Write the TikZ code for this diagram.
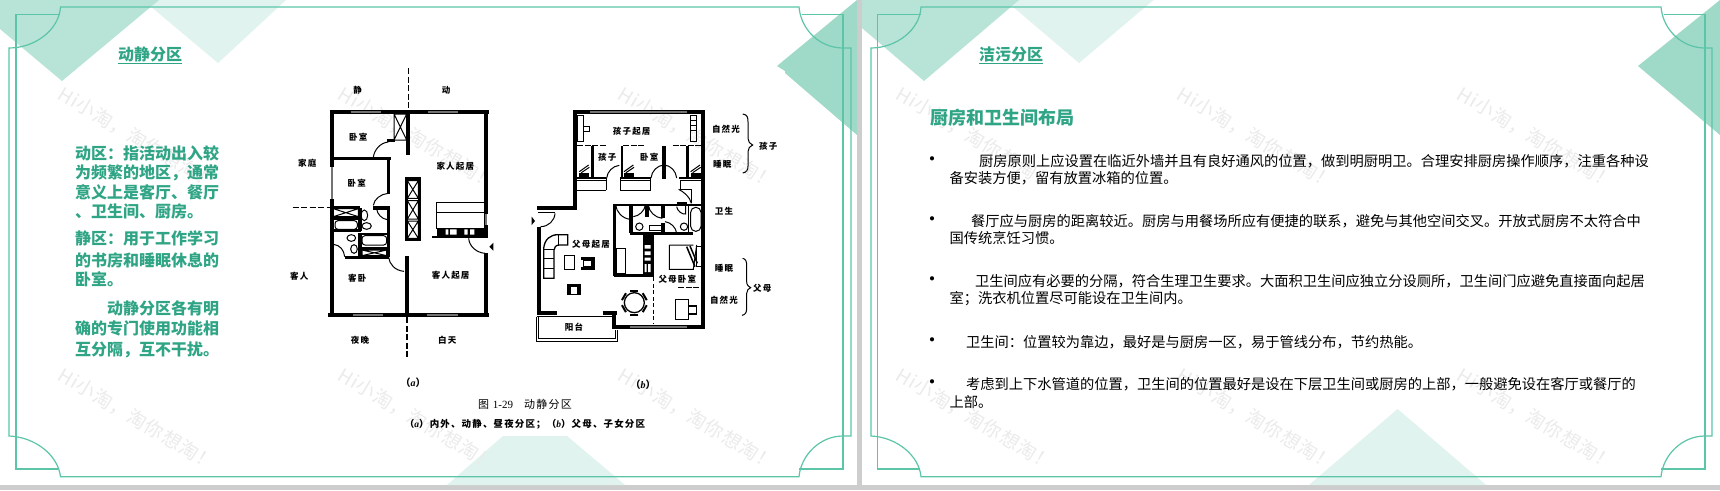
\documentclass[tikz,border=0pt]{standalone}
\usepackage{fontspec}
\setmainfont{Noto Sans CJK SC}
\newfontfamily\scan[LetterSpace=14]{Noto Sans CJK SC}
\newfontfamily\capfont[LetterSpace=12]{Noto Sans CJK SC}
\newfontfamily\wmfont[LetterSpace=5]{Noto Sans CJK SC}
\newfontfamily\latinit{Liberation Serif}
\definecolor{gframe}{HTML}{5CC5A8}
\definecolor{gtext}{HTML}{2FA586}
\definecolor{tridark}{HTML}{9FD9C8}
\definecolor{trimid}{HTML}{B8E3D7}
\definecolor{trilight}{HTML}{E0F3EE}
\definecolor{wmark}{HTML}{EBEBEB}
\definecolor{panelgap}{HTML}{CDCDCD}
\newcommand{\crossbox}[4]{\draw[mid] (#1,#2) rectangle (#3,#4) (#1,#2)--(#3,#4) (#1,#4)--(#3,#2);}
\tikzset{
  frameline/.style={draw=gframe,line width=1.2pt},
  mark wm/.style={text=wmark,font=\fontsize{19}{19}\selectfont\wmfont,inner sep=0pt,anchor=west,rotate=-31},
  gline/.style={text=gtext,font=\fontsize{16}{16}\selectfont\bfseries,inner sep=0pt,anchor=west},
  gtitle/.style={text=gtext,font=\fontsize{16}{16}\selectfont\bfseries,inner sep=0pt},
  body/.style={text=black,font=\fontsize{14.25}{14.25}\selectfont,inner sep=0pt,anchor=west},
  lab/.style={text=black,font=\fontsize{8.5}{8.5}\selectfont\scan\bfseries,inner sep=0pt},
  wall/.style={draw=black,line width=4pt,line cap=butt},
  wallb/.style={draw=black,line width=2.6pt,line cap=butt},
  mid/.style={draw=black,line width=1pt},
  thin2/.style={draw=black,line width=0.7pt},
  win/.style={draw=black!55,line width=2.2pt},
  dashcut/.style={draw=black,line width=1.5pt,dash pattern=on 6pt off 2.5pt},
}
\begin{document}
\begin{tikzpicture}[x=1pt,y=-1pt]
\useasboundingbox (0,0) rectangle (1720,490);
\fill[panelgap] (0,0) rectangle (1720,490);
\fill[white] (0,0) rectangle (857,485);
\fill[white] (862,0) rectangle (1720,485);
% left panel decoration
\fill[trilight] (143,0) -- (218,63) -- (286,0) -- cycle;
\fill[trimid] (0,29) -- (62,81) -- (159,0) -- (0,0) -- cycle;
\fill[tridark] (777,66) -- (857,0) -- (857,135) -- (785,73) -- (785,71) -- cycle;
\fill[trilight] (503,436) -- (567,436) -- (625,485) -- (447,485) -- cycle;
% right panel decoration
\fill[trilight] (1005,0) -- (1079,63) -- (1153.5,0) -- cycle;
\fill[trimid] (862,28) -- (924,81) -- (1019,0) -- (862,0) -- cycle;
\fill[tridark] (1638,66) -- (1720,0) -- (1720,135) -- cycle;
\fill[trilight] (1397.6,409) -- (1486,485) -- (1309,485) -- cycle;
% watermarks
\foreach \wx/\wn in {60/a,340/b,620/c,898/d,1179/e,1459/f}{
  \node[mark wm] (wmt\wn) at (\wx,92) {Hi小淘，淘你想淘！};
  \node[mark wm] (wmb\wn) at (\wx,373) {Hi小淘，淘你想淘！};
}
% frames
\draw[frameline] (851,436) -- (843,436) .. controls (820,436) and (801,455) .. (799,476.7)
  -- (60.5,476.7) .. controls (58,455) and (35,437) .. (9,436) -- (9,48)
  .. controls (35,48) and (59,30) .. (60.5,7) -- (799,7)
  .. controls (801,30) and (820,48) .. (843,48) -- (851,48) -- cycle;
\draw[frameline] (60,14.5) -- (16,14.5) -- (16,469) -- (58,469);
\draw[frameline] (802,14.5) -- (843,14.5) -- (843,469) -- (799,469);
\draw[frameline] (1712,436) -- (1705,436) .. controls (1682,436) and (1663,455) .. (1661,476.7)
  -- (921,476.7) .. controls (919,455) and (896,437) .. (871,436) -- (871,48)
  .. controls (896,48) and (920,30) .. (921,7) -- (1661,7)
  .. controls (1663,30) and (1682,48) .. (1705,48) -- (1712,48) -- cycle;
\draw[frameline] (921,14.5) -- (877.5,14.5) -- (877.5,469) -- (919,469);
\draw[frameline] (1664,14.5) -- (1705,14.5) -- (1705,469) -- (1661,469);
% left texts
\node[gtitle] (ltitle) at (150,55) {\underline{动静分区}};
\node[gline] (l1) at (75,153) {动区：指活动出入较};
\node[gline] (l2) at (75,173) {为频繁的地区，通常};
\node[gline] (l3) at (75,192) {意义上是客厅、餐厅};
\node[gline] (l4) at (75,212) {、卫生间、厨房。};
\node[gline] (l5) at (75,238) {静区：用于工作学习};
\node[gline] (l6) at (75,260) {的书房和睡眠休息的};
\node[gline] (l7) at (75,279) {卧室。};
\node[gline] (l8) at (107,308) {动静分区各有明};
\node[gline] (l9) at (75,328) {确的专门使用功能相};
\node[gline] (l10) at (75,350) {互分隔，互不干扰。};
% right texts
\node[gtitle] (rtitle) at (1011,55) {\underline{洁污分区}};
\node[gtitle,font=\fontsize{18}{18}\selectfont\bfseries,anchor=west] (rhead) at (930,118) {厨房和卫生间布局};
\foreach \by/\bn in {161/a,221/b,281/c,342/d,384/e}{
  \node[body,anchor=center,font=\fontsize{15}{15}\selectfont\bfseries] (bul\bn) at (932,\by) {•};
}
\node[body] (r1) at (979,161) {厨房原则上应设置在临近外墙并且有良好通风的位置，做到明厨明卫。合理安排厨房操作顺序，注重各种设};
\node[body] (r1b) at (949.4,178) {备安装方便，留有放置冰箱的位置。};
\node[body] (r2) at (971,221) {餐厅应与厨房的距离较近。厨房与用餐场所应有便捷的联系，避免与其他空间交叉。开放式厨房不太符合中};
\node[body] (r2b) at (949.4,238) {国传统烹饪习惯。};
\node[body] (r3) at (975,281) {卫生间应有必要的分隔，符合生理卫生要求。大面积卫生间应独立分设厕所，卫生间门应避免直接面向起居};
\node[body] (r3b) at (949.4,299) {室；洗衣机位置尽可能设在卫生间内。};
\node[body] (r4) at (966,342) {卫生间：位置较为靠边，最好是与厨房一区，易于管线分布，节约热能。};
\node[body] (r5) at (966,384) {考虑到上下水管道的位置，卫生间的位置最好是设在下层卫生间或厨房的上部，一般避免设在客厅或餐厅的};
\node[body] (r5b) at (949.4,402) {上部。};
% captions
\node[lab,font=\fontsize{10}{10}\selectfont\scan\bfseries] (capa) at (413,383) {（{\latinit\itshape a}）};
\node[lab,font=\fontsize{10}{10}\selectfont\scan\bfseries] (capb) at (643,385) {（{\latinit\itshape b}）};
\node[lab,font=\fontsize{11}{11}\selectfont\capfont] (cap1) at (525,404) {图 {\latinit 1-29}\hspace{1em}动静分区};
\node[lab,font=\fontsize{9.5}{9.5}\selectfont\capfont\bfseries] (cap2) at (525,424) {（{\latinit\itshape a}）内外、动静、昼夜分区；（{\latinit\itshape b}）父母、子女分区};
% ===== plan A =====
\begin{scope}[shift={(280,60)},x=1pt/3,y=-1pt/3]
\draw[dashcut] (385,25) -- (385,150);
\draw[dashcut] (381,772) -- (381,895);
\draw[dashcut] (38,443) -- (150,443);
\draw[wall] (149,155) -- (626,155);
\draw[wall] (155,155) -- (155,322);
\draw[win] (155,322) -- (155,418);
\draw[wall] (155,418) -- (155,765);
\draw[wall] (145,765) -- (626,765);
\draw[wall] (617,155) -- (617,462);
\draw[win] (617,462) -- (617,496);
\draw[wall] (617,496) -- (617,535);
\draw[wall] (617,580) -- (617,765);
\draw[win] (212,155) -- (303,155);
\draw[win] (443,155) -- (535,155);
\draw[win] (218,765) -- (310,765);
\draw[win] (440,765) -- (535,765);
\draw[wall] (384,155) -- (384,285);
\draw[wall] (380,588) -- (380,765);
\crossbox{342}{162}{380}{240}
\draw[wallb] (155,296) -- (332,296) (326,296) -- (326,402);
\draw[wallb] (322,242) -- (346,242);
\draw[mid] (280,292) .. controls (283,268) and (302,248) .. (325,246);
\draw[mid] (280,436) .. controls (282,418) and (302,402) .. (324,400);
\draw[wall] (280,443) -- (330,443);
\draw[wallb] (155,443) -- (240,443);
% baths
\crossbox{160}{446}{235}{470}
\draw[wallb] (160,476) -- (240,476);
\draw[mid,rounded corners=3pt] (165,482) rectangle (232,508);
\draw[wallb] (160,512) -- (242,512);
\draw[wall] (241,445) -- (241,512);
\draw[mid] (253,466) ellipse [x radius=10, y radius=16];
\draw[mid] (260,498) ellipse [x radius=14, y radius=10];
\draw[mid] (290,447) .. controls (292,462) and (305,477) .. (322,479);
\draw[wallb] (326,445) -- (326,590);
\draw[wallb] (240,522) -- (328,522);
\draw[mid,rounded corners=3pt] (246,527) rectangle (320,555);
\draw[wall] (241,520) -- (241,590);
\draw[mid] (214,534) ellipse [x radius=13, y radius=10];
\draw[mid] (222,567) ellipse [x radius=10, y radius=13];
\draw[wallb] (240,566) -- (328,566);
\crossbox{246}{570}{320}{587}
\draw[wallb] (195,592) -- (328,592);
\draw[mid] (160,553) .. controls (180,555) and (192,570) .. (194,590);
\draw[mid] (326,592) .. controls (328,612) and (345,632) .. (372,634);
% central duct
\draw[wall,line width=2.6pt] (379,356) rectangle (418,540);
\crossbox{382}{362}{415}{415}
\crossbox{382}{422}{415}{477}
\crossbox{382}{483}{415}{535}
% kitchen
\draw[mid] (470,428) rectangle (612,458);
\draw[mid] (470,458) rectangle (612,505);
\fill[black] (472,503) rectangle (620,528);
\fill[white] (497,508) rectangle (505,524) (510,508) rectangle (530,524) (553,508) rectangle (563,524) (570,508) rectangle (583,524);
\draw[wallb] (457,531) -- (622,531);
\draw[mid] (566,535) .. controls (568,560) and (590,578) .. (615,580);
\fill[black] (640,548) -- (628,560) -- (640,572) -- cycle;
% labels
\node[lab] (a1) at (233,90) {静};
\node[lab] (a2) at (498,90) {动};
\node[lab] (a3) at (235,232) {卧室};
\node[lab] (a4) at (526,318) {家人起居};
\node[lab] (a5) at (82,310) {家庭};
\node[lab] (a6) at (230,370) {卧室};
\node[lab] (a7) at (58,648) {客人};
\node[lab] (a8) at (232,655) {客卧};
\node[lab] (a9) at (512,645) {客人起居};
\node[lab] (a10) at (240,842) {夜晚};
\node[lab] (a11) at (502,842) {白天};
\end{scope}
% ===== plan B =====
\begin{scope}[shift={(520,90)},x=1pt/3,y=-1pt/3]
\draw[wall] (159,65) -- (556,65);
\draw[win] (210,65) -- (500,65);
\draw[wall] (550,65) -- (550,718);
\draw[wall] (277,712) -- (556,712);
\draw[win] (330,712) -- (500,712);
\draw[wall] (165,65) -- (165,361);
\draw[wall] (51,355) -- (171,355);
\draw[wall] (57,410) -- (57,676);
\draw[wall] (51,670) -- (110,670);
\draw[wall] (248,670) -- (290,670);
\draw[wall] (283,670) -- (283,718);
% balcony
\draw[mid] (50,680) -- (50,755) -- (292,755) -- (292,720);
\draw[mid] (50,680) -- (286,680);
\draw[thin2] (56,680) -- (56,746) -- (286,746) -- (286,720);
% entry door
\draw[mid] (55,368) -- (105,368);
\draw[mid] (62,410) .. controls (85,410) and (104,392) .. (105,370);
\fill[black] (35,380) -- (45,393) -- (35,405) -- cycle;
% kids dashes
\draw[wallb,line width=1.2pt,dash pattern=on 6pt off 1.5pt] (172,166) -- (262,166) (310,166) -- (376,166) (458,166) -- (545,166);
\draw[mid] (171,75) rectangle (190,155) (190,110) rectangle (208,123);
\draw[mid] (510,75) rectangle (530,155);
\draw[thin2] (510,90) -- (530,90) (510,105) -- (530,105) (510,120) -- (530,120);
\draw[wallb] (217,168) -- (217,262);
\draw[wallb] (306,168) -- (306,262);
\draw[wallb] (503,168) -- (503,262);
\draw[wallb] (170,264) -- (258,264) (300,264) -- (392,264) (478,264) -- (545,264);
\draw[mid] (170,300) -- (258,300) (258,272) -- (170,272);
\draw[mid] (258,264) -- (258,300) (300,264) -- (300,300) -- (392,300) (300,272) -- (392,272) (392,264) -- (392,300);
\draw[mid] (480,272) -- (545,272) (480,272) -- (480,298) -- (515,298) -- (515,340);
\draw[mid] (260,264) .. controls (262,245) and (278,228) .. (298,226);
\draw[mid] (393,264) .. controls (395,243) and (412,226) .. (432,225) .. controls (452,226) and (468,243) .. (470,264);
\draw[mid] (476,298) .. controls (490,305) and (510,320) .. (514,340);
\draw[wall] (432,168) -- (432,268);
\foreach \bx in {178,312,512}{
  \fill[black] (\bx,250) rectangle ++(30,10);
  \draw[mid] (\bx,245) -- ++(28,-20);
  \draw[mid] (\bx+6,248) -- ++(24,-16);
}
% bath block
\draw[wallb] (280,345) -- (548,345);
\draw[wallb] (283,345) -- (283,558);
\draw[wall] (332,342) -- (332,430);
\draw[wall] (380,342) -- (380,382);
\draw[wall] (429,342) -- (429,384);
\draw[wall] (429,400) -- (429,430);
\draw[wall] (470,342) -- (500,342);
\draw[wallb] (330,430) -- (520,430);
\draw[mid] (287,345) .. controls (289,365) and (306,385) .. (330,388);
\draw[mid] (340,380) .. controls (358,378) and (374,362) .. (376,345);
\draw[mid] (385,345) .. controls (387,365) and (405,383) .. (427,385);
\draw[mid] (435,395) .. controls (452,397) and (468,412) .. (470,430);
\draw[mid] (470,350) .. controls (472,362) and (485,374) .. (497,372) .. controls (497,360) and (497,350) .. (497,347);
\draw[mid] (358,410) circle [radius=11];
\draw[mid] (492,410) circle [radius=11];
\draw[mid] (387,405) rectangle (423,420);
\draw[mid,rounded corners=5pt] (512,352) rectangle (543,424);
\draw[mid] (505,348) -- (505,430);
% kitchen
\draw[mid] (288,475) rectangle (315,550);
\draw[wallb] (283,556) -- (398,556);
\fill[black] (368,430) rectangle (402,562);
\fill[white] (374,465) rectangle (392,476) (374,484) rectangle (392,495) (374,503) rectangle (392,512);
\fill[white] (374,522) rectangle (380,546) (384,522) rectangle (392,546);
% parents room
\draw[mid] (448,465) -- (520,465) (448,465) -- (448,538) -- (520,538) -- (530,465);
\draw[wallb,line width=1.5pt] (500,470) -- (525,530) (510,468) -- (532,520);
\draw[mid] (528,470) rectangle (545,530);
\draw[dashcut,line width=1pt,dash pattern=on 4pt off 2.5pt] (399,562) -- (399,702);
\draw[wallb,line width=1.4pt,dash pattern=on 6pt off 1.5pt] (475,592) -- (545,592);
\draw[mid,line width=1.3pt] (466,628) rectangle (506,688);
\draw[mid,line width=1.3pt] (506,648) rectangle (530,672);
% sofa and living
\draw[mid,line width=1.3pt] (71,565) -- (71,475) .. controls (74,448) and (90,434) .. (115,434) -- (143,434) -- (143,465) -- (118,465) .. controls (108,465) and (102,472) .. (102,480) -- (102,565) -- cycle;
\draw[mid] (115,434) -- (115,465) (71,478) -- (102,478) (71,505) -- (102,505) (71,535) -- (102,535);
\draw[mid] (133,497) rectangle (162,538);
\draw[wallb] (184,505) -- (220,505) -- (220,535) -- (184,535);
\draw[mid] (190,510) rectangle (214,530);
\draw[wallb] (146,615) -- (146,585) -- (178,585) -- (178,615);
\draw[mid] (152,590) rectangle (172,612);
% dining
\draw[mid,line width=1.3pt] (343,638) circle [radius=30];
\foreach \ca in {30,90,150,210,270,330}{
  \draw[mid,line width=2pt,rotate around={\ca:(343,638)}] (379,626) -- (379,650);
}
% labels
\node[lab] (b1) at (335,125) {孩子起居};
\node[lab] (b2) at (262,203) {孩子};
\node[lab] (b3) at (388,200) {卧室};
\node[lab] (b4) at (618,118) {自然光};
\node[lab] (b5) at (607,222) {睡眠};
\node[lab] (b6) at (745,168) {孩子};
\node[lab] (b7) at (612,363) {卫生};
\node[lab] (b8) at (213,463) {父母起居};
\node[lab] (b9) at (472,567) {父母卧室};
\node[lab] (b10) at (612,535) {睡眠};
\node[lab] (b11) at (612,632) {自然光};
\node[lab] (b12) at (727,595) {父母};
\node[lab] (b13) at (162,712) {阳台};
% braces
\draw[mid] (668,72) .. controls (682,74) and (684,82) .. (684,95) -- (684,145) .. controls (684,155) and (690,162) .. (698,165) .. controls (690,168) and (684,175) .. (684,185) -- (684,228) .. controls (684,240) and (680,247) .. (668,249);
\draw[mid] (668,505) .. controls (678,507) and (680,515) .. (680,528) -- (680,575) .. controls (680,585) and (686,591) .. (692,593) .. controls (686,595) and (680,601) .. (680,610) -- (680,655) .. controls (680,668) and (676,674) .. (666,676);
\end{scope}
\end{tikzpicture}
\end{document}
